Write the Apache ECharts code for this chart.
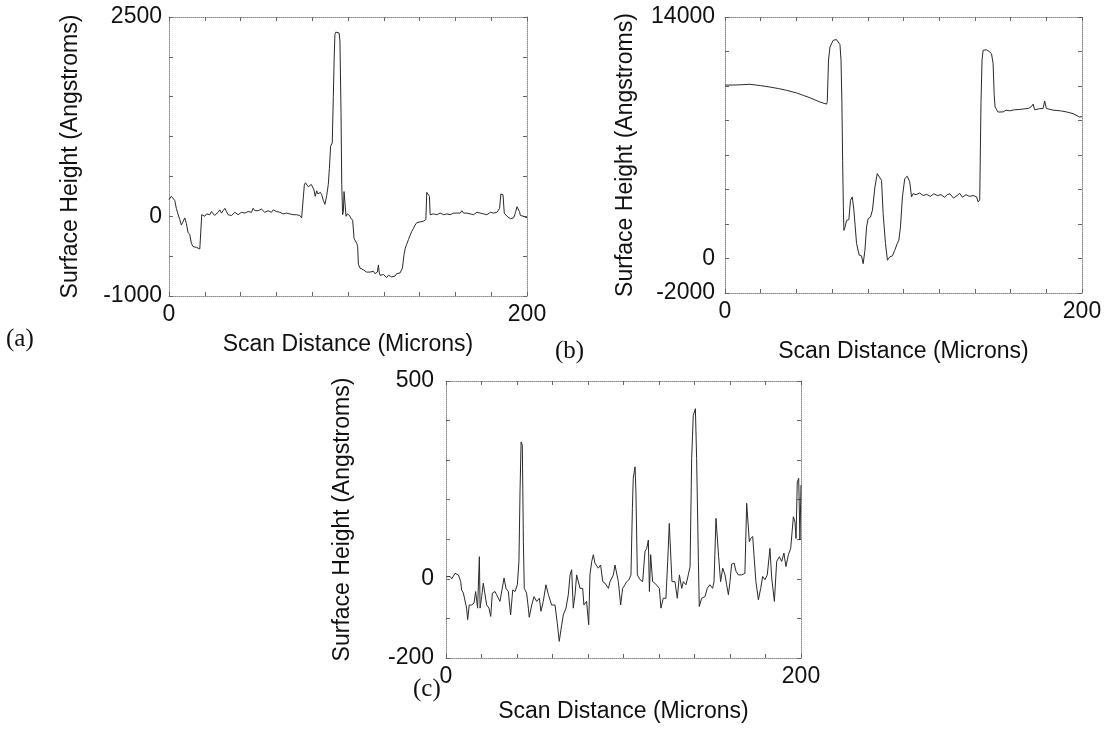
<!DOCTYPE html>
<html>
<head>
<meta charset="utf-8">
<script src="https://cdn.jsdelivr.net/npm/echarts@6/dist/echarts.min.js"></script>
<style>
html,body{margin:0;padding:0;background:#fff;}
#chart{width:1108px;height:734px;}
</style>
</head>
<body>
<div id="chart"></div>
<script>
// ---------- Panel (a) ----------
const xA = [0,1.3,2.2,3.2,4.1,5.0,6.0,6.9,7.8,8.8,9.7,10.6,11.6,12.5,13.4,14.4,15.3,16.2,17.2,17.9,18.3,19.2,20.0,21.0,22.0,22.8,23.7,24.6,25.5,26.5,27.4,28.4,29.3,30.2,31.2,32.1,33.0,34.0,34.9,35.8,36.8,37.7,38.6,39.6,40.5,41.4,42.4,43.3,44.2,45.1,46.1,47.0,48.0,48.9,49.8,50.7,51.7,52.6,53.5,54.5,55.4,56.3,57.2,58.2,59.1,60.0,61.0,61.9,62.9,63.8,64.7,65.7,66.6,67.5,68.5,69.4,70.3,71.2,72.2,73.1,74.1,75.0,75.6,76.2,76.9,77.8,78.7,79.5,80.2,81.0,81.7,82.5,83.2,84.0,84.6,85.3,86.2,87.1,88.1,89.0,89.6,90.3,91.2,91.8,92.3,92.7,93.2,93.7,94.3,95.0,95.5,96.1,96.5,97.0,97.4,97.8,98.5,98.9,99.6,100.2,100.9,101.5,102.0,102.6,103.4,104.2,104.9,105.4,105.8,106.7,107.6,108.5,109.5,110.4,111.4,112.3,113.2,114.2,115.1,115.8,116.4,117.0,117.4,117.9,118.3,119.0,119.8,120.7,121.6,122.6,123.5,124.4,125.4,126.3,127.2,128.2,129.1,129.8,130.4,131.3,132.0,132.8,133.8,134.7,135.6,136.6,137.5,138.4,139.4,140.3,141.2,142.2,143.0,143.5,144.0,145.0,145.5,145.9,146.8,147.8,148.7,149.6,150.6,151.5,152.4,153.4,154.3,155.2,156.2,157.1,158.0,159.0,159.9,160.8,161.8,162.7,163.6,164.6,165.5,166.4,167.4,168.3,169.2,170.1,171.1,172.0,172.9,173.9,174.8,175.7,176.7,177.6,178.5,179.5,180.4,181.3,182.3,183.2,184.0,184.7,185.4,186.0,186.6,187.3,188.0,188.8,189.8,190.7,191.6,192.5,193.2,193.7,194.4,195.3,195.8,196.3,197.2,198.1,199.0,200];
const yA = [210,250,230,200,100,30,-40,-110,-70,-20,
  -90,-200,-230,-340,-380,-370,-390,-380,-410,-400,
  20,10,0,30,10,20,60,40,10,20,
  50,80,40,70,100,60,20,0,10,20,
  50,40,20,30,50,60,40,30,60,80,
  50,100,70,90,70,60,90,80,50,40,
  70,60,50,80,90,60,40,50,60,30,
  20,40,40,30,10,20,30,20,0,10,
  -20,-30,390,420,410,370,380,400,420,330,
  250,320,280,290,300,270,200,150,260,400,
  600,880,920,1500,2000,2280,2310,2300,2310,2300,
  2200,1300,400,20,60,310,300,0,30,20,
  10,-20,-30,-50,-280,-300,-340,-380,-600,-650,
  -660,-670,-690,-700,-720,-700,-720,-690,-720,-740,
  -700,-610,-700,-740,-720,-760,-730,-720,-770,-740,
  -730,-760,-740,-750,-720,-740,-710,-690,-650,-480,
  -400,-350,-290,-240,-190,-150,-110,-80,-80,-70,
  -70,-60,-50,-40,300,310,250,20,40,30,
  40,20,30,40,30,20,40,30,40,20,
  30,40,30,40,30,40,70,40,30,40,
  50,30,40,20,30,50,30,40,40,30,
  40,20,30,50,30,40,60,50,60,
  100,280,290,270,40,20,0,-20,-30,-10,-20,
  20,60,120,110,60,10,20,0,10,-20];

// ---------- Panel (b) ----------
const xB = [0,7,14,20,25.2,30,34.5,40,43.8,48,53.2,56.9,57.3,58.0,58.8,60.6,62.5,63.5,64.4,65.0,65.5,65.9,66.3,66.6,67.2,68.1,69.4,70.3,71.3,72.2,73.7,75.2,76.5,77.4,78.4,79.3,80.2,81.5,82.6,84.0,85.3,86.4,87.7,88.6,89.9,91.0,92.4,93.8,95.1,96.5,97.4,98.3,99.4,100.7,102.1,103.5,104.5,105.4,107,109,111,113,115,117,119,121,123,124.5,126,128,130,131.5,133,135,137,139,140.9,141.8,142.7,143.4,144.0,144.6,146.5,148,149.3,150.2,150.8,151.3,153,155.8,157.5,159.5,162,165.1,168,170,171.6,172.6,173.5,176,178.2,179.1,180,183.8,188,191.2,195,198.7,200];
const yB = [10050,10060,10100,10020,9940,9850,9750,9600,9460,9300,9070,8950,9100,11500,12260,12650,12690,12600,12400,11500,9000,5690,3000,1630,1800,2210,2250,3370,3570,2800,870,190,150,-300,480,1830,2310,2400,2800,4150,4920,5020,4530,2600,870,-100,100,150,480,870,1060,1830,3570,4630,4770,4440,3570,3760,3700,3800,3650,3720,3600,3750,3650,3700,3550,3700,3750,3500,3650,3780,3550,3700,3600,3650,3580,3280,3400,9000,11500,12070,12100,12000,11870,11300,9500,8780,8490,8500,8600,8560,8620,8640,8680,8700,8800,8950,8620,8680,8700,9130,8700,8600,8560,8500,8400,8200,8230];

// ---------- Panel (c) ----------
const xC = [0,2.3,3.2,5.1,7.0,8.3,8.8,9.8,10.7,11.6,12.2,13.1,14.5,15.8,16.7,17.8,18.8,19.2,20.1,21.0,22.0,22.9,24.2,25.2,26.1,27.6,28.5,30.4,32.7,33.8,35.1,36.4,37.6,38.9,40.2,41.1,41.7,42.3,43.0,43.6,44.1,45.4,46.4,46.9,48.3,49.6,51.1,52.6,53.5,54.8,56.3,57.7,59.5,61.4,62.7,63.8,65.2,66.1,67.6,68.9,69.9,70.8,71.7,72.7,73.6,74.6,75.5,77.0,77.7,79.2,80.4,81.1,82.1,83.0,83.9,85.8,87.1,88.3,89.6,91.5,92.4,94.3,95.2,96.2,97.1,98.4,99.5,100.8,101.8,103.1,104.2,105.0,105.5,106.5,107.0,107.8,109.3,110.8,112.1,113.1,114.0,114.6,115.3,116.4,117.7,118.7,120.2,121.1,122.4,123.9,124.9,125.8,126.6,127.3,129.0,130.3,131.5,132.8,133.7,135.2,136.5,137.5,138.4,139.3,140.5,141.2,142.2,142.7,144.0,145.9,147.2,148.7,150.2,151.0,152.1,152.9,153.6,154.7,155.9,157.2,158.1,159.1,160.0,160.9,162.3,163.4,164.7,166.6,168.4,169.4,170.3,170.9,171.6,172.8,173.5,174.6,176.0,177.3,178.4,179.7,181.0,182.5,183.5,185.0,186.3,187.8,189.1,190.4,191.5,192.9,194.2,195.7,196.6,197.2,197.9,198.7,199.4,200];
const yC = [5,6,0,14,10,-7,-28,-36,-32,-74,-103,-66,-66,-61,-32,-74,56,-74,-45,-11,-7,-66,-74,-95,-36,-32,-40,-57,2,-24,-32,-91,-28,-32,-15,44,220,346,338,94,-24,-36,-74,-97,-66,-45,-57,-49,-82,-57,-15,-40,-66,-66,-112,-158,-116,-91,-74,-40,10,23,-74,-40,10,14,-24,-24,-66,-57,-116,10,44,61,40,27,35,-7,-11,-24,-7,10,35,35,-7,-66,-24,-15,-7,-2,10,178,254,283,220,10,-2,-7,69,77,98,-32,61,-7,-11,-7,-24,-74,-49,-49,44,140,136,-7,-7,-49,10,-24,-7,-15,10,31,304,413,430,304,44,-70,-49,-45,-24,-15,-24,-7,153,157,56,-7,27,10,-15,-40,-7,37,40,19,10,10,14,191,191,94,102,107,61,-7,-53,-24,6,-2,10,77,2,-57,44,56,44,65,31,61,77,157,144,102,245,254,98,237];

// ---------- Axis ticks / labels ----------
const xTicks = {min: 0, max: 200, interval: 20};
const xTickLabels = [0, 200];
const yTicksA = {min: -1000, max: 2500, interval: 500};
const yTickLabelsA = [-1000, 0, 2500];
const yTicksB = {min: -2000, max: 14000, interval: 2000};
const yTickLabelsB = [-2000, 0, 14000];
const yTicksC = {min: -200, max: 500, interval: 100};
const yTickLabelsC = [-200, 0, 500];
const xName = 'Scan Distance (Microns)';
const yName = 'Surface Height (Angstroms)';
const panelLabels = ['(a)', '(b)', '(c)'];

const FONT = 'Liberation Sans, Arial, Helvetica, sans-serif';
const frameLine = {show: true, onZero: false, lineStyle: {color: '#8a8a8a', type: 'dotted', width: 1}};
const tick = {show: true, inside: true, length: 4, lineStyle: {color: '#666', width: 1}};

const zip = (xs, ys) => xs.map((x, i) => [x, ys[i]]);

const grids = [
  {left: 169, top: 17, width: 358, height: 279},
  {left: 725, top: 17, width: 357, height: 276},
  {left: 446, top: 381, width: 355, height: 277}
];
const yTickSets = [yTicksA, yTicksB, yTicksC];
const yLabelSets = [yTickLabelsA, yTickLabelsB, yTickLabelsC];
const yLabelMargins = [7, 10, 12];
const yNameGaps = [87, 88, 92];
const xNameGaps = [37, 47, 42];
const data = [zip(xA, yA), zip(xB, yB), zip(xC, yC)];

const xAxes = [], yAxes = [], series = [];
grids.forEach((g, i) => {
  xAxes.push({
    type: 'value', gridIndex: i, position: 'bottom', ...xTicks,
    axisLine: frameLine, axisTick: tick, splitLine: {show: false},
    axisLabel: {show: true, margin: 7, color: '#111', fontFamily: FONT, fontSize: 23,
      formatter: v => xTickLabels.includes(v) ? String(v) : ''},
    name: xName, nameLocation: 'middle', nameGap: xNameGaps[i],
    nameTextStyle: {color: '#111', fontFamily: FONT, fontSize: 23}
  });
  xAxes.push({
    type: 'value', gridIndex: i, position: 'top', ...xTicks,
    axisLine: frameLine, axisTick: tick, splitLine: {show: false}, axisLabel: {show: false}
  });
  yAxes.push({
    type: 'value', gridIndex: i, position: 'left', ...yTickSets[i],
    axisLine: frameLine, axisTick: tick, splitLine: {show: false},
    axisLabel: {show: true, margin: yLabelMargins[i], color: '#111', fontFamily: FONT, fontSize: 23,
      formatter: v => yLabelSets[i].includes(v) ? String(v) : ''},
    name: yName, nameLocation: 'middle', nameGap: yNameGaps[i],
    nameTextStyle: {color: '#111', fontFamily: FONT, fontSize: 23}
  });
  yAxes.push({
    type: 'value', gridIndex: i, position: 'right', ...yTickSets[i],
    axisLine: frameLine, axisTick: tick, splitLine: {show: false}, axisLabel: {show: false}
  });
  series.push({
    type: 'line', xAxisIndex: i * 2, yAxisIndex: i * 2, data: data[i],
    showSymbol: false, symbol: 'none', smooth: false,
    lineStyle: {color: '#2a2a2a', width: 1}, silent: true
  });
});

const chart = echarts.init(document.getElementById('chart'), null, {renderer: 'canvas'});
chart.setOption({
  backgroundColor: '#fff',
  animation: false,
  grid: grids.map(g => Object.assign({containLabel: false}, g)),
  xAxis: xAxes,
  yAxis: yAxes,
  series: series,
  graphic: [
    {type: 'text', left: 6, top: 327, style: {text: panelLabels[0], font: '25px "Liberation Serif", "DejaVu Serif", serif', fill: '#111'}},
    {type: 'text', left: 555, top: 339, style: {text: panelLabels[1], font: '25px "Liberation Serif", "DejaVu Serif", serif', fill: '#111'}},
    {type: 'text', left: 413, top: 677, style: {text: panelLabels[2], font: '25px "Liberation Serif", "DejaVu Serif", serif', fill: '#111'}}
  ]
});
</script>
</body>
</html>
